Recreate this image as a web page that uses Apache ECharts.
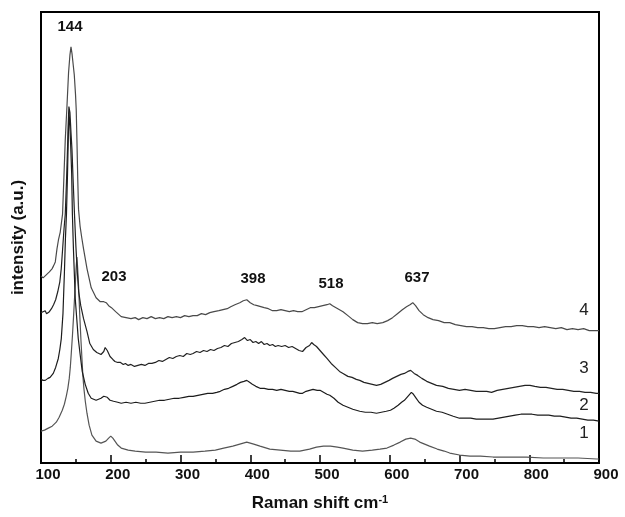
<!DOCTYPE html>
<html>
<head>
<meta charset="utf-8">
<script src="https://cdnjs.cloudflare.com/ajax/libs/echarts/6.0.0/echarts.min.js"></script>
<style>
  html, body { margin: 0; padding: 0; background: #fff; }
  #chart { width: 625px; height: 517px; }
</style>
</head>
<body>
<div id="chart"></div>
<script>
// Raman spectra, [shift cm-1, intensity a.u.]
var curve4 = [[100,188],[103,186],[106,188],[108.6,190],[112,192],[115.8,195],[118,198],[120.5,202],[122.9,215],[125,224],[127.6,232],[130.9,250],[133,290],[134.8,325],[137.2,358],[139.5,392],[141.5,410],[143,418],[144.5,411],[146,401],[147.7,390],[149.5,370],[150.5,355],[151.5,325],[152.7,285],[153.8,255],[156,238],[158.5,226],[161,215],[166,195],[172,176],[179,166],[185,162],[190,162],[193.5,161],[197,158],[201,156],[207,152],[215,147],[222,146],[229,145],[235,146],[240,144],[246,146],[252,145],[258,147],[264,145],[270,146],[276,145],[282,147],[288,146],[294,147],[300,146],[306,148],[312,147],[318,148],[324,148],[330,150],[336,149],[342,151],[348,152],[355,153],[361,154],[367,155],[372,157],[378,159],[385,161],[390,163],[395,164],[400,161],[405,159],[410,158],[415,157],[420,156],[426,155],[432,153],[438,153],[444,154],[450,153],[456,152],[462,153],[468,152],[474,152],[480,154],[486,156],[492,156],[498,157],[504,158],[510,159],[514,160],[518,158],[523,156],[528,154],[533,152],[540,148],[547,144],[554,141],[561,140],[568,140],[575,141],[582,140],[590,141],[597,143],[604,146],[611,150],[618,154],[624,157],[629,159],[633,161],[637,158],[642,153],[648,149],[655,146],[662,144],[670,143],[678,141],[686,141],[694,139],[702,138],[710,137],[718,137],[726,136],[734,136],[742,135],[750,135],[758,136],[766,137],[774,137],[782,138],[790,138],[798,137],[806,137],[814,136],[822,137],[830,136],[838,135],[846,136],[854,134],[862,135],[870,134],[878,135],[886,133],[894,133],[900,133]];

var curve3 = [[100,151],[103,152],[106,153],[108,150],[110,148],[112,152],[115,155],[118,159],[121,164],[124,172],[127,182],[129,195],[131,215],[133,235],[134.8,250],[136.5,282],[138,315],[139,340],[140,358],[141.5,352],[143,332],[144.4,315],[146,285],[148,250],[150,218],[152,192],[154,172],[157,158],[161,145],[166,132],[170,120],[175,114],[180,111],[186,109],[190,112],[192,116],[195,113],[199,107],[203,104],[206,102],[210,101],[214,101],[218,99],[221,100],[225,98],[229,99],[234,97],[239,98],[244,99],[249,98],[254,100],[259,100],[264,101],[269,103],[274,102],[279,104],[284,106],[289,105],[294,107],[299,108],[304,107],[309,110],[314,109],[318,110],[323,112],[328,111],[333,113],[338,112],[343,114],[348,113],[353,115],[358,116],[363,118],[368,117],[373,120],[378,121],[383,122],[388,124],[392,126],[396,123],[400,124],[404,121],[408,122],[412,120],[416,122],[420,119],[424,120],[428,118],[432,119],[436,117],[440,118],[445,117],[450,118],[455,116],[460,117],[465,115],[470,113],[475,112],[480,116],[485,118],[488,121],[491,119],[495,117],[500,113],[505,109],[510,105],[516,100],[522,96],[528,92],[533,90],[540,87],[546,86],[552,84],[557,83],[563,81],[569,80],[575,79],[581,78],[587,79],[593,81],[599,83],[604,85],[610,87],[616,89],[621,90],[626,92],[630,93],[635,90],[640,88],[646,85],[653,82],[660,80],[667,78],[676,77],[684,75],[692,74],[700,73],[708,74],[716,73],[724,72],[732,72],[739,72],[746,71],[754,73],[762,74],[770,75],[778,76],[786,77],[794,78],[801,78],[808,77],[816,76],[824,76],[832,75],[840,74],[848,74],[856,73],[864,72],[872,72],[880,71],[888,71],[896,70],[900,70]];

var curve2 = [[100,84],[103,83],[106,83],[110,85],[113,86],[117.6,90],[121,96],[124.8,105],[127,114],[129.1,125],[131.5,150],[133.5,190],[135,225],[136.5,250],[138,290],[139.2,330],[140,352],[141,345],[142.5,320],[144,290],[145,250],[146.5,215],[149.1,165],[153.4,125],[156.3,108],[159.1,92],[163.4,79],[167.7,70],[172,65],[179,63],[186,65],[190,67],[192,69],[195,66],[199,63],[204,62],[210,61],[215,60],[222,61],[229,60],[236,61],[243,60],[249,60],[256,61],[263,62],[270,63],[277,63],[284,64],[291,65],[298,65],[305,66],[312,67],[318,67],[325,68],[332,69],[339,70],[346,70],[352,71],[357,72],[363,74],[369,75],[375,77],[381,79],[386,81],[391,82],[395,83],[399,81],[403,79],[408,77],[414,75],[420,75],[426,74],[432,74],[438,73],[444,74],[450,73],[456,72],[461,72],[466,71],[471,70],[475,70],[480,72],[485,73],[490,74],[496,73],[500,73],[505,71],[510,69],[514,68],[520,65],[526,61],[533,58],[540,56],[547,54],[557,52],[565,51],[573,51],[581,50],[588,51],[595,52],[601,53],[606,55],[612,58],[617,61],[621,63],[626,67],[631,71],[634,69],[638,65],[642,61],[647,58],[653,56],[660,54],[667,52],[675,51],[683,49],[691,47],[700,45],[708,45],[716,45],[724,44],[732,44],[740,44],[748,44],[756,45],[764,46],[772,47],[780,48],[788,49],[796,49],[804,49],[812,48],[820,48],[828,48],[836,47],[844,47],[852,46],[860,45],[868,45],[876,44],[884,43],[892,43],[900,42]];

var curve1 = [[100,32],[105,33],[110.5,35],[116,37],[121.9,41],[126,46],[130.5,53],[133.5,59],[136.2,67],[138.5,75],[140.5,85],[142,96],[143.4,110],[145,127],[146.5,145],[147.8,162],[149,177],[150.3,195],[151.5,207],[152.6,195],[153.7,180],[154.8,162],[155.8,145],[157.3,123],[158.7,105],[160,88],[161.5,75],[163.5,62],[165.9,50],[169,38],[173,28],[179,22],[186,20],[193,22],[197,25],[200,27],[203,25],[206,22],[210,18],[215,15],[225,13],[235,12],[250,11],[265,11],[282,10],[300,11],[318,11],[335,12],[350,13],[362,15],[375,17],[385,19],[395,21],[405,19],[414,17],[428,14],[443,13],[458,12],[471,12],[485,14],[495,16],[505,17],[515,17],[525,16],[533,15],[547,13],[561,12],[575,13],[586,14],[596,15],[606,18],[615,21],[623,24],[630,25],[636,24],[643,21],[650,19],[657,17],[668,14],[678,12],[686,10],[700,8],[715,7],[730,7],[748,6],[770,6],[796,6],[820,5],[844,5],[870,5],[897,4],[900,4]];

var peakLabels = ['144', '203', '398', '518', '637'];
var curveNames = ['4', '3', '2', '1'];

var font = "'Liberation Sans', Arial, sans-serif";

var chart = echarts.init(document.getElementById('chart'));

function line(name, data, color) {
    return {
        name: name,
        type: 'line',
        data: data,
        showSymbol: false,
        smooth: false,
        silent: true,
        lineStyle: { color: color, width: 1.2 }
    };
}

// label positions in px (peak labels, then curve numbers)
var peakPos = [[70, 27], [114, 277], [253, 279], [331, 284], [417, 278]];
var curvePos = [[584, 310], [584, 368], [584, 405], [584, 433]];

var graphics = [];
peakLabels.forEach(function (t, i) {
    graphics.push({
        type: 'text', x: peakPos[i][0], y: peakPos[i][1],
        style: { text: t, font: 'bold 15px ' + font, fill: '#111', textAlign: 'center', textVerticalAlign: 'middle' }
    });
});
curveNames.forEach(function (t, i) {
    graphics.push({
        type: 'text', x: curvePos[i][0], y: curvePos[i][1],
        style: { text: t, font: '17px ' + font, fill: '#222', textAlign: 'center', textVerticalAlign: 'middle' }
    });
});

var option = {
    backgroundColor: '#fff',
    animation: false,
    grid: { left: 41, right: 26, top: 12, bottom: 52, show: true, borderColor: '#000', borderWidth: 2 },
    xAxis: {
        type: 'value',
        min: 100, max: 900, interval: 100,
        name: 'Raman shift cm{sup|-1}',
        nameLocation: 'middle',
        nameGap: 31,
        nameTextStyle: {
            fontFamily: font, fontWeight: 'bold', fontSize: 17, color: '#111',
            rich: { sup: { fontFamily: font, fontWeight: 'bold', fontSize: 11, color: '#111', verticalAlign: 'top', padding: [0, 0, 8, 0] } }
        },
        axisLine: { lineStyle: { color: '#000', width: 2 } },
        axisTick: { inside: true, length: 8, lineStyle: { color: '#000', width: 1.5 } },
        minorTick: { show: true, splitNumber: 2, length: 4, lineStyle: { color: '#000', width: 1.5 } },
        axisLabel: { fontFamily: font, fontWeight: 'bold', fontSize: 15, color: '#111', margin: 4, padding: [0, 0, 0, 14] },
        splitLine: { show: false }
    },
    yAxis: {
        type: 'value',
        min: 0, max: 453,
        name: 'intensity (a.u.)',
        nameLocation: 'middle',
        nameGap: 14,
        nameTextStyle: { fontFamily: font, fontWeight: 'bold', fontSize: 17, color: '#111' },
        axisLine: { show: true, lineStyle: { color: '#000', width: 2 } },
        axisTick: { show: false },
        axisLabel: { show: false },
        splitLine: { show: false }
    },
    graphic: graphics,
    series: [
        line('1', curve1, '#555'),
        line('2', curve2, '#1c1c1c'),
        line('3', curve3, '#222'),
        line('4', curve4, '#4a4a4a')
    ]
};

chart.setOption(option);
</script>
</body>
</html>
